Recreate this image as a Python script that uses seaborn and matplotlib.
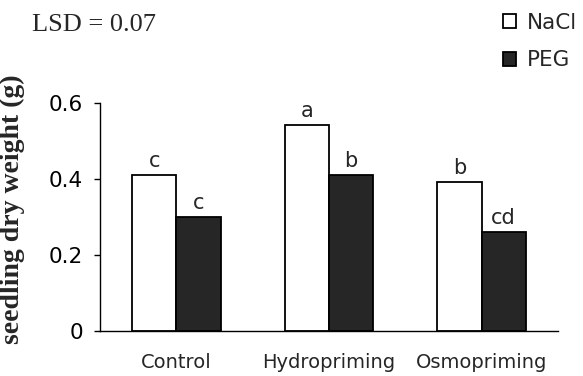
import pandas as pd
import numpy as np
import matplotlib.pyplot as plt
import seaborn as sns

# values
treatments = ['Control', 'Hydropriming', 'Osmopriming']
stress = ['NaCl', 'PEG']
nacl_weight = [0.41, 0.54, 0.39]
peg_weight = [0.30, 0.41, 0.26]
nacl_letters = ['c', 'a', 'b']
peg_letters = ['c', 'b', 'cd']
lsd_text = 'LSD = 0.07'

df = pd.DataFrame({
    'treatment': treatments * 2,
    'stress': ['NaCl'] * 3 + ['PEG'] * 3,
    'weight': nacl_weight + peg_weight,
})

sns.set_style('white')
plt.rcParams['font.family'] = ['DejaVu Sans']

fig = plt.figure(figsize=(5.83, 3.76), dpi=100)
ax = fig.add_axes([0.1715, 0.1205, 0.7855, 0.6065])

sns.barplot(data=df, x='treatment', y='weight', hue='stress', order=treatments,
            hue_order=stress, palette={'NaCl': 'white', 'PEG': '#262626'},
            width=0.58, edgecolor='black', linewidth=1.3, errorbar=None,
            saturation=1, ax=ax)

# significance letters above bars
for container, letters in zip(ax.containers, [nacl_letters, peg_letters]):
    for bar, lab in zip(container, letters):
        ax.annotate(lab, (bar.get_x() + bar.get_width() / 2, bar.get_height()),
                    xytext=(0, 3), textcoords='offset points', ha='center',
                    va='bottom', fontsize=15, annotation_clip=False)

ax.set_xlim(-0.5, 2.5)
ax.set_ylim(0, 0.6)
ax.set_yticks([0, 0.2, 0.4, 0.6])
ax.set_yticklabels(['0', '0.2', '0.4', '0.6'])
ax.tick_params(axis='y', direction='out', length=4, width=1, pad=8, labelsize=15.5,
               left=True, colors='black')
ax.tick_params(axis='x', length=0, pad=16, labelsize=14)
ax.set_xlabel('')
ax.set_ylabel('seedling dry weight (g)', family='Liberation Serif', fontweight='bold',
              fontsize=20)
ax.yaxis.set_label_coords(-0.164, 0.534)

for side in ['top', 'right']:
    ax.spines[side].set_visible(False)
for side in ['left', 'bottom']:
    ax.spines[side].set_color('black')
    ax.spines[side].set_linewidth(1)

ax.legend(loc='upper left', bbox_to_anchor=(503 / 583, 1 - 13 / 376),
          bbox_transform=fig.transFigure, frameon=False, fontsize=15.5,
          handlelength=0.62, handleheight=0.62, handletextpad=0.5,
          labelspacing=0.8, borderaxespad=0, borderpad=0)

fig.text(32 / 583, 1 - 25 / 376, lsd_text, family='Liberation Serif', fontsize=19,
         va='center', ha='left')

fig.savefig('out.png', dpi=100)
